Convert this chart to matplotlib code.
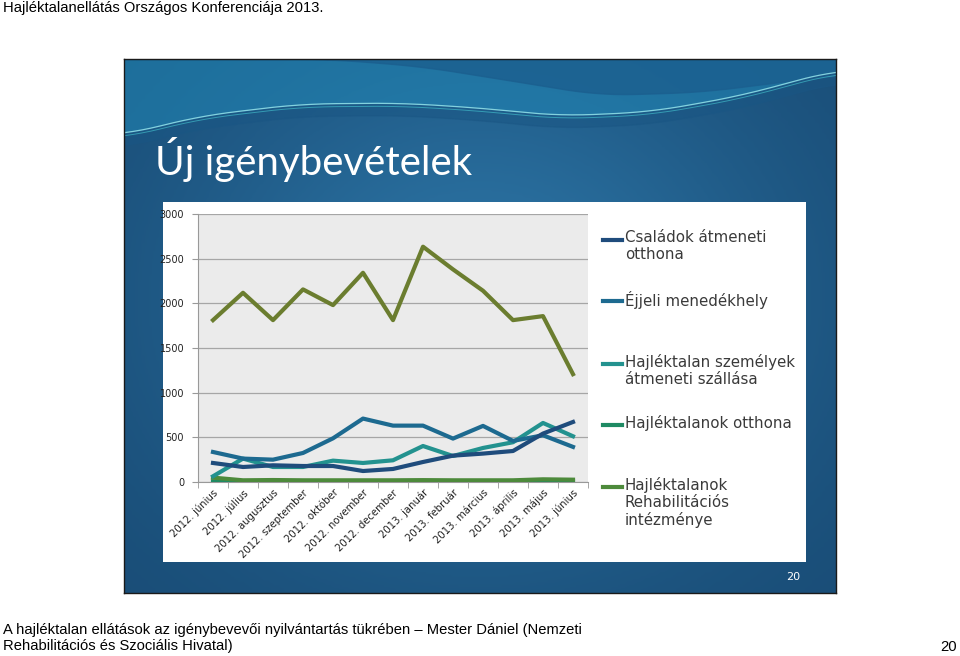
import numpy as np
import matplotlib
matplotlib.use("Agg")
import matplotlib.pyplot as plt
from matplotlib.lines import Line2D

# Monthly new users
months = ["2012. június", "2012. július", "2012. augusztus", "2012. szeptember",
          "2012. október", "2012. november", "2012. december", "2013. január",
          "2013. február", "2013. március", "2013. április", "2013. május",
          "2013. június"]

csaladok = [213, 168, 187, 179, 179, 123, 146, 224, 295, 318, 347, 542, 672]
ejjeli = [336, 262, 250, 325, 489, 710, 631, 631, 486, 628, 460, 523, 393]
atmeneti = [64, 262, 168, 168, 239, 213, 243, 403, 291, 381, 445, 661, 512]
otthona = [8, 5, 5, 5, 5, 5, 5, 6, 5, 5, 6, 8, 8]
rehab = [49, 19, 22, 19, 19, 19, 19, 21, 19, 19, 19, 30, 26]
top_series = [1812, 2118, 1812, 2156, 1980, 2342, 1812, 2634, 2380, 2141,
              1812, 1857, 1207]

legend_labels = ["Családok átmeneti\notthona", "Éjjeli menedékhely",
                 "Hajléktalan személyek\nátmeneti szállása",
                 "Hajléktalanok otthona",
                 "Hajléktalanok\nRehabilitációs\nintézménye"]
yticks = [0, 500, 1000, 1500, 2000, 2500, 3000]

W, H = 960, 656
fig = plt.figure(figsize=(W / 100, H / 100), dpi=100)
fig.patch.set_facecolor("white")


def rect(x0, y0, x1, y1):
    # pixel box (top-left origin) -> figure fraction
    return [x0 / W, 1 - y1 / H, (x1 - x0) / W, (y1 - y0) / H]


def smooth(v, k=31):
    # moving average with edge padding, only for the decorative wave
    pad = np.pad(v, k // 2, mode="edge")
    return np.convolve(pad, np.ones(k) / k, mode="valid")


# slide background with gradient and wave at the top
SX0, SY0, SX1, SY1 = 124, 59, 836, 593
bg = fig.add_axes(rect(SX0, SY0, SX1, SY1))
bg.set_xlim(SX0, SX1)
bg.set_ylim(SY1, SY0)
xx, yy = np.meshgrid(np.linspace(0, 1, 200), np.linspace(0, 1, 200))
grad = 0.55 + 0.4 * np.exp(-((xx - 0.5) ** 2 / 0.2 + (yy - 0.45) ** 2 / 0.25))
cmap = matplotlib.colors.LinearSegmentedColormap.from_list(
    "slide", ["#16466f", "#2b72a2"])
bg.imshow(grad, extent=(SX0, SX1, SY1, SY0), cmap=cmap, vmin=0.5,
          vmax=0.95, aspect="auto", zorder=0)

# wave outline (pixel coords of the thin light stroke)
wx = np.linspace(SX0, SX1, 400)
wy = smooth(np.interp(wx, [124, 200, 300, 400, 480, 560, 650, 740, 836],
                      [135, 116, 104, 103, 108, 116, 112, 96, 70]), 41)
dark_y = smooth(np.interp(wx, [124, 330, 420, 520, 600, 700, 836],
                          [59, 59, 66, 82, 95, 92, 75]), 41)
bg.fill_between(wx, SY0, wy, color="#2189b8", alpha=0.55, zorder=1)
bg.fill_between(wx, SY0, dark_y, color="#1b5f8f", alpha=0.8, zorder=1)
bg.fill_between(wx, wy, wy + 12, color="#1a5684", alpha=0.5, zorder=1)
bg.plot(wx, wy, color="#8fdde6", lw=0.9, alpha=0.9, zorder=2)
bg.plot(wx, wy + 3, color="#3fb8c8", lw=0.7, alpha=0.7, zorder=2)
bg.set_xticks([])
bg.set_yticks([])
for s in bg.spines.values():
    s.set_color("#1a1a1a")
    s.set_linewidth(1.0)

# title on slide
fig.text(155 / W, 1 - 160 / H, "Új igénybevételek", color="white",
         fontsize=29, family="Lato", va="center", ha="left", zorder=10)
fig.text(800 / W, 1 - 577 / H, "20", color="white", fontsize=8,
         ha="right", va="center", family="DejaVu Sans", zorder=10)

# white chart box
box = fig.add_axes(rect(163, 202, 806, 562))
box.set_xticks([])
box.set_yticks([])
box.set_facecolor("white")
for s in box.spines.values():
    s.set_visible(False)

# plot area
ax = fig.add_axes(rect(198, 214, 588, 482))
ax.set_facecolor("#ebebeb")
x = np.arange(len(months))
ax.plot(x, top_series, color="#6b7d2f", lw=3, zorder=3)
ax.plot(x, otthona, color="#1e8a63", lw=3, zorder=3)
ax.plot(x, rehab, color="#4d8a3b", lw=3, zorder=3)
ax.plot(x, atmeneti, color="#23928f", lw=3, zorder=4)
ax.plot(x, ejjeli, color="#1d6a90", lw=3, zorder=4)
ax.plot(x, csaladok, color="#1f4c7c", lw=3, zorder=4)

ax.set_xlim(-0.5, len(months) - 0.5)
ax.set_ylim(0, 3000)
ax.set_yticks(yticks)
ax.set_yticklabels([str(v) for v in yticks], fontsize=7, color="#222222")
ax.set_xticks(x)
ax.set_xticklabels(months, rotation=45, ha="right", va="top",
                   rotation_mode="anchor", fontsize=7.3, color="#222222")
ax.set_xticks(np.arange(-0.5, len(months)), minor=True)
ax.tick_params(axis="x", which="major", length=0, pad=4)
ax.tick_params(axis="x", which="minor", length=4, color="#999999")
ax.tick_params(axis="y", length=4, color="#999999", pad=6)
ax.grid(axis="y", color="#a6a6a6", lw=0.9, zorder=1)
for side in ["top", "right"]:
    ax.spines[side].set_visible(False)
ax.spines["left"].set_color("#999999")
ax.spines["bottom"].set_color("#999999")

# legend drawn by hand to follow the slide's spacing
leg_colors = ["#1f4c7c", "#1d6a90", "#23928f", "#1e8a63", "#4d8a3b"]
leg_y = [240, 301, 364, 425, 487]
for lab, col, ly in zip(legend_labels, leg_colors, leg_y):
    fig.add_artist(Line2D([603 / W, 622 / W], [1 - ly / H, 1 - ly / H],
                          color=col, lw=3))
    fig.text(625 / W, 1 - (ly - 10) / H, lab, fontsize=10.8, color="#3a3a3a",
             ha="left", va="top", linespacing=1.15, family="DejaVu Sans")

# page header and footer
fig.text(3 / W, 1 - 8 / H, "Hajléktalanellátás Országos Konferenciája 2013.",
         fontsize=10.6, family="Liberation Sans", va="center", ha="left")
fig.text(3 / W, 1 - 638 / H,
         "A hajléktalan ellátások az igénybevevői nyilvántartás tükrében – "
         "Mester Dániel (Nemzeti\nRehabilitációs és Szociális Hivatal)",
         fontsize=10.6, family="Liberation Sans", va="center", ha="left",
         linespacing=1.1)
fig.text(957 / W, 1 - 647 / H, "20", fontsize=10.6, family="Liberation Sans",
         va="center", ha="right")

fig.savefig("out.png", dpi=100)
